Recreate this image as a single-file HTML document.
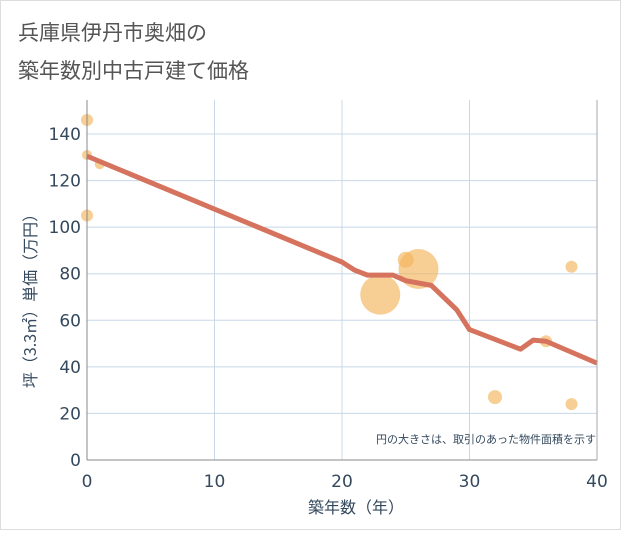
<!DOCTYPE html>
<html><head><meta charset="utf-8"><style>
body{margin:0;background:#fff;font-family:"Liberation Sans","Noto Sans CJK JP",sans-serif}
svg text{font-family:"DejaVu Sans","Liberation Sans","Noto Sans CJK JP",sans-serif}
</style></head><body>
<svg width="621" height="530">
<rect x="0.5" y="0.5" width="620" height="529" fill="#fff" stroke="#ddd"/>
<text x="18" y="40" font-size="21" fill="#555" style="font-family:'Noto Sans CJK JP',sans-serif">兵庫県伊丹市奥畑の</text>
<text x="18" y="78" font-size="21" fill="#555" style="font-family:'Noto Sans CJK JP',sans-serif">築年数別中古戸建て価格</text>
<g id="grid"></g><g id="bubbles"></g><g id="line"></g><g id="axes"></g>
<text x="596" y="443" font-size="11" fill="#34495e" text-anchor="end" style="font-family:'Noto Sans CJK JP',sans-serif">円の大きさは、取引のあった物件面積を示す</text>
<text x="356" y="513" font-size="16" fill="#34495e" text-anchor="middle" style="font-family:'Noto Sans CJK JP',sans-serif">築年数（年）</text>
<text transform="translate(36,297) rotate(-90)" font-size="16" fill="#34495e" text-anchor="middle" style="font-family:'Noto Sans CJK JP',sans-serif">坪（3.3㎡）単価（万円）</text>
</svg>
<script>
const xTicks=[0,10,20,30,40];
const yTicks=[0,20,40,60,80,100,120,140];
const lineX=[0,20,21,22,24,25,27,29,30,34,35,36,40];
const lineY=[130.5,85,81.5,79.4,79.4,77,75,64.5,56,47.6,51.5,51,41.6];
const bubX=[0,0,1,0,23,26,25,32,36,38,38];
const bubY=[146,131,127,105,71,82,86,27,51,83,24];
const bubR=[6,5,5,6,20,20,8,7,6,6,6];
const NS="http://www.w3.org/2000/svg";
const L=87,R=597,T=100,B=460;
const sx=v=>L+(v-0)/40*(R-L);
const sy=v=>B-v*(B-134)/140;
function mk(t,a,p){const e=document.createElementNS(NS,t);for(const k in a)e.setAttribute(k,a[k]);p.appendChild(e);return e;}
const g=document.getElementById('grid'),ax=document.getElementById('axes');
xTicks.forEach(v=>{const e=mk('line',{x1:sx(v),x2:sx(v),y1:T,y2:B,stroke:'#c8d8e8'},g);

const t=mk('text',{x:sx(v),y:B+27,'font-size':17,fill:'#34495e','text-anchor':'middle'},ax);t.textContent=v;
});
yTicks.forEach(v=>{const e=mk('line',{x1:L,x2:R,y1:sy(v),y2:sy(v),stroke:'#c8d8e8'},g);

const t=mk('text',{x:L-6,y:sy(v)+6,'font-size':17,fill:'#34495e','text-anchor':'end'},ax);t.textContent=v;
});
const a1=mk('line',{x1:L,x2:L,y1:T,y2:B,stroke:'#888'},ax);

const a2=mk('line',{x1:L,x2:R,y1:B,y2:B,stroke:'#888'},ax);

const a3=mk('line',{x1:R,x2:R,y1:T,y2:B,stroke:'#aaa'},ax);

const bg=document.getElementById('bubbles');
bubX.forEach((v,i)=>{const c=mk('circle',{cx:sx(v),cy:sy(bubY[i]),r:bubR[i],fill:'rgba(242,180,90,0.65)'},bg);
});
const pts=lineX.map((v,i)=>sx(v)+','+sy(lineY[i])).join(' ');
const pl=mk('polyline',{points:pts,fill:'none',stroke:'#d5735e','stroke-width':5,'stroke-linejoin':'round'},document.getElementById('line'));

</script>
</body></html>
